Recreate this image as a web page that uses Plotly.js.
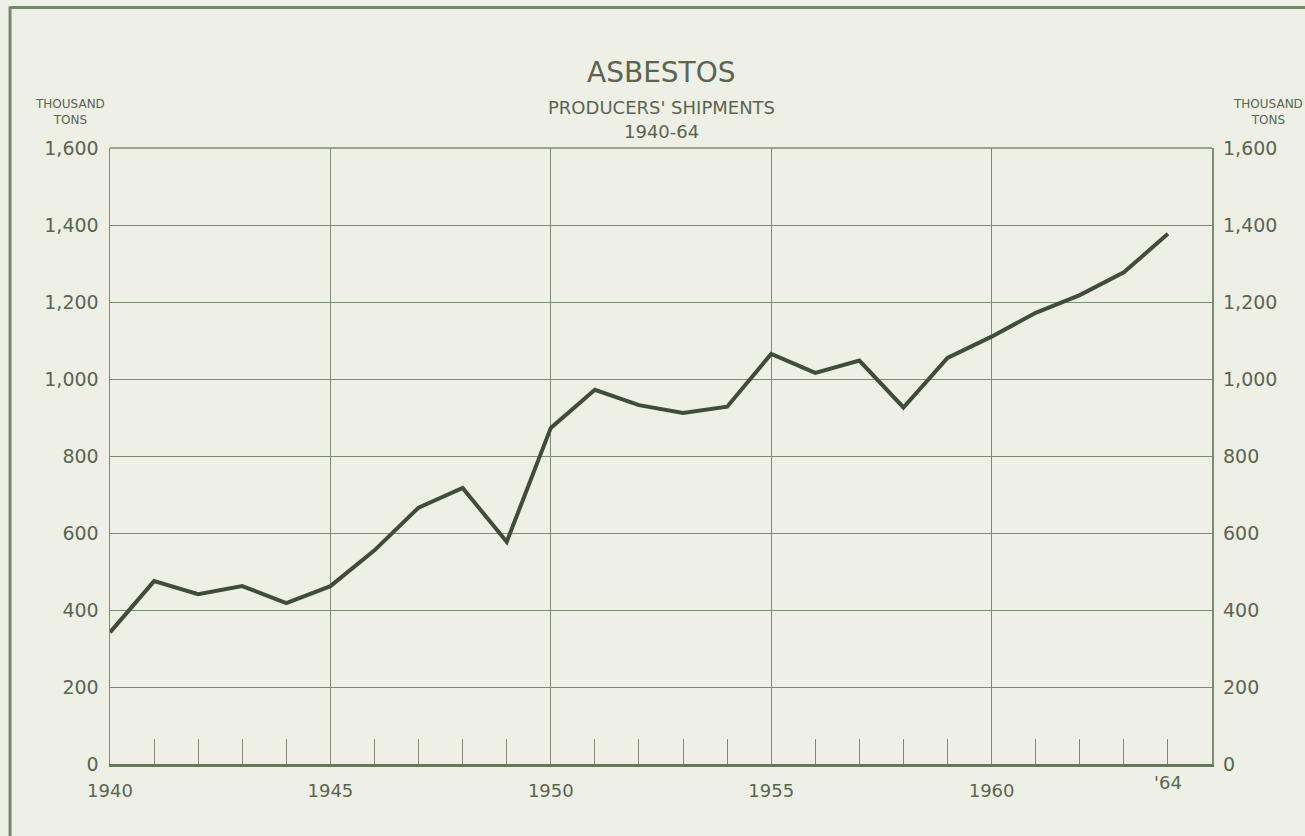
<!DOCTYPE html>
<html>
<head>
<meta charset="utf-8">
<script src="https://cdn.plot.ly/plotly-3.0.1.min.js"></script>
<style>
html,body{margin:0;padding:0;background:#eef0e5;}
#chart{width:1305px;height:836px;}
</style>
</head>
<body>
<div id="chart"></div>
<script>
const years = [1940,1941,1942,1943,1944,1945,1946,1947,1948,1949,1950,1951,1952,1953,1954,1955,1956,1957,1958,1959,1960,1961,1962,1963,1964];
const shipments = [342,475,441,462,418,462,555,666,717,577,873,972,932,912,928,1065,1016,1048,926,1055,1110,1172,1218,1277,1377];
const yTickVals = [0,200,400,600,800,1000,1200,1400,1600];
const yTickText = ['0','200','400','600','800','1,000','1,200','1,400','1,600'];
const xTickVals = [1940,1945,1950,1955,1960];
const xTickText = ['1940','1945','1950','1955','1960'];
const lastLabel = "'64";

const ink = '#5b6552';
const gridCol = '#7f8a74';
const font = 'DejaVu Sans, Liberation Sans, sans-serif';

const data = [
  {x: years, y: shipments, type: 'scatter', mode: 'lines',
   line: {color: '#434c3b', width: 4}, hoverinfo: 'skip', xaxis: 'x', yaxis: 'y'},
  {x: years, y: shipments, type: 'scatter', mode: 'lines',
   line: {color: 'rgba(0,0,0,0)', width: 0}, hoverinfo: 'skip', xaxis: 'x', yaxis: 'y2', showlegend: false}
];

const layout = {
  width: 1305, height: 836,
  paper_bgcolor: '#eef0e5', plot_bgcolor: '#eef0e5',
  margin: {l: 110, r: 93, t: 148, b: 72},
  showlegend: false,
  font: {family: font, color: ink},
  xaxis: {
    range: [1940, 1965], tickmode: 'array', tickvals: xTickVals, ticktext: xTickText,
    ticks: 'inside', ticklen: 25, tickcolor: gridCol, tickwidth: 1,
    showgrid: true, gridcolor: gridCol, gridwidth: 1,
    minor: {dtick: 1, tick0: 1940, ticks: 'inside', ticklen: 25, tickcolor: gridCol, tickwidth: 1, showgrid: false},
    showline: true, linecolor: '#6a7560', linewidth: 3, mirror: false,
    zeroline: false, tickfont: {size: 18, color: ink, family: font}, ticklabelstandoff: 8,
    fixedrange: true
  },
  yaxis: {
    range: [0, 1600], tickmode: 'array', tickvals: yTickVals, ticktext: yTickText,
    showgrid: true, gridcolor: gridCol, gridwidth: 1,
    showline: true, linecolor: gridCol, linewidth: 1.5, mirror: true,
    ticks: '', zeroline: false, tickfont: {size: 19, color: ink, family: font},
    ticklabelstandoff: 6, fixedrange: true
  },
  yaxis2: {
    range: [0, 1600], tickmode: 'array', tickvals: yTickVals, ticktext: yTickText,
    overlaying: 'y', side: 'right', showgrid: false, showline: false, ticks: '',
    zeroline: false, tickfont: {size: 19, color: ink, family: font},
    ticklabelstandoff: 10, fixedrange: true
  },
  shapes: [
    {type: 'line', xref: 'paper', yref: 'paper', x0: 0, x1: 1, y0: 1, y1: 1, line: {color: gridCol, width: 1.5}},
    {type: 'line', xref: 'paper', yref: 'paper', x0: -0.0907, x1: -0.0907, y0: -0.2, y1: 1.23, line: {color: '#7a8570', width: 3}},
    {type: 'line', xref: 'paper', yref: 'paper', x0: -0.0907, x1: 1.1, y0: 1.228, y1: 1.228, line: {color: '#7a8570', width: 3}}
  ],
  annotations: [
    {text: 'ASBESTOS', xref: 'paper', yref: 'paper', x: 0.5, y: 1 + (148-72)/616, xanchor: 'center', yanchor: 'middle', showarrow: false, font: {size: 28, color: ink, family: font}},
    {text: "PRODUCERS' SHIPMENTS", xref: 'paper', yref: 'paper', x: 0.5, y: 1 + (148-107)/616, xanchor: 'center', yanchor: 'middle', showarrow: false, font: {size: 18, color: ink, family: font}},
    {text: '1940-64', xref: 'paper', yref: 'paper', x: 0.5, y: 1 + (148-131)/616, xanchor: 'center', yanchor: 'middle', showarrow: false, font: {size: 18, color: ink, family: font}},
    {text: 'THOUSAND<br>TONS', xref: 'paper', yref: 'paper', x: (70-110)/1102, y: 1 + (148-112)/616, xanchor: 'center', yanchor: 'middle', showarrow: false, font: {size: 12, color: ink, family: font}},
    {text: 'THOUSAND<br>TONS', xref: 'paper', yref: 'paper', x: (1268-110)/1102, y: 1 + (148-112)/616, xanchor: 'center', yanchor: 'middle', showarrow: false, font: {size: 12, color: ink, family: font}},
    {text: lastLabel, xref: 'x', yref: 'paper', x: 1964, y: -(782-764)/616, xanchor: 'center', yanchor: 'middle', showarrow: false, font: {size: 18, color: ink, family: font}}
  ]
};

Plotly.newPlot('chart', data, layout, {displayModeBar: false, staticPlot: true});
</script>
</body>
</html>
